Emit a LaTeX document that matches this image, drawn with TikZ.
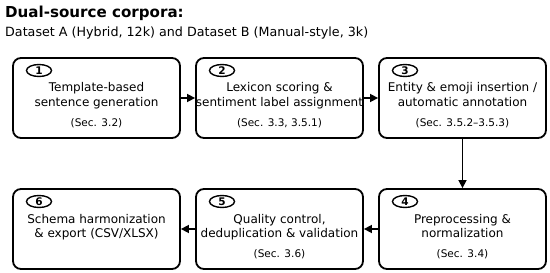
\documentclass[tikz,border=0pt]{standalone}
\usepackage{fontspec}
\setmainfont{DejaVu Sans}
\usetikzlibrary{arrows.meta,shapes.geometric}
\begin{document}
\begin{tikzpicture}[x=1pt,y=-1pt,
  stepbox/.style={draw=black,line width=1.8pt,rounded corners=8pt,minimum width=167pt,minimum height=80pt,inner sep=0pt,fill=white},
  numtag/.style={draw=black,ellipse,line width=1.4pt,minimum width=25pt,minimum height=12pt,inner sep=0pt,font=\bfseries\fontsize{10.5}{12}\selectfont},
  mainline/.style={anchor=base,inner sep=0pt,font=\fontsize{12}{14}\selectfont},
  secline/.style={anchor=base,inner sep=0pt,font=\fontsize{10.5}{12}\selectfont},
  flow/.style={line width=1.5pt,-{Triangle[length=8pt,width=8pt]}}
]
\useasboundingbox (0,0) rectangle (550,273);
\node[anchor=base west,inner sep=0pt,font=\bfseries\fontsize{15.1}{18}\selectfont] (title) at (5,17.5) {Dual-source corpora:};
\node[anchor=base west,inner sep=0pt,font=\fontsize{12.7}{15}\selectfont] (subtitle) at (5,36.7) {Dataset A (Hybrid, 12k) and Dataset B (Manual-style, 3k)};

% boxes
\node[stepbox] (b1) at (96.5,98) {};
\node[stepbox] (b2) at (279.5,98) {};
\node[stepbox] (b3) at (462.5,98) {};
\node[stepbox] (b4) at (462.5,229) {};
\node[stepbox] (b5) at (279.5,229) {};
\node[stepbox] (b6) at (96.5,229) {};

% number tags
\node[numtag] (n1) at (39,70.5) {1};
\node[numtag] (n2) at (222,70.5) {2};
\node[numtag] (n3) at (405,70.5) {3};
\node[numtag] (n4) at (405,201.5) {4};
\node[numtag] (n5) at (222,201.5) {5};
\node[numtag] (n6) at (39,201.5) {6};

% texts
\node[mainline] (t1a) at (96.5,92) {Template-based};
\node[mainline] (t1b) at (96.5,106.5) {sentence generation};
\node[secline] (s1) at (96.5,126) {(Sec. 3.2)};

\node[mainline] (t2a) at (279.5,92) {Lexicon scoring \&};
\node[mainline] (t2b) at (279.5,106.5) {sentiment label assignment};
\node[secline] (s2) at (279.5,126) {(Sec. 3.3, 3.5.1)};

\node[mainline] (t3a) at (462.5,92) {Entity \& emoji insertion /};
\node[mainline] (t3b) at (462.5,106.5) {automatic annotation};
\node[secline] (s3) at (462.5,126) {(Sec. 3.5.2–3.5.3)};

\node[mainline] (t4a) at (462.5,223) {Preprocessing \&};
\node[mainline] (t4b) at (462.5,237.5) {normalization};
\node[secline] (s4) at (462.5,257) {(Sec. 3.4)};

\node[mainline] (t5a) at (279.5,223) {Quality control,};
\node[mainline] (t5b) at (279.5,237.5) {deduplication \& validation};
\node[secline] (s5) at (279.5,257) {(Sec. 3.6)};

\node[mainline] (t6a) at (96.5,223) {Schema harmonization};
\node[mainline] (t6b) at (96.5,237.5) {\& export (CSV/XLSX)};

% connectors
\draw[flow] (b1.east) -- (b2.west);
\draw[flow] (b2.east) -- (b3.west);
\draw[flow] (b3.south) -- (b4.north);
\draw[flow] (b4.west) -- (b5.east);
\draw[flow] (b5.west) -- (b6.east);
\end{tikzpicture}
\end{document}
